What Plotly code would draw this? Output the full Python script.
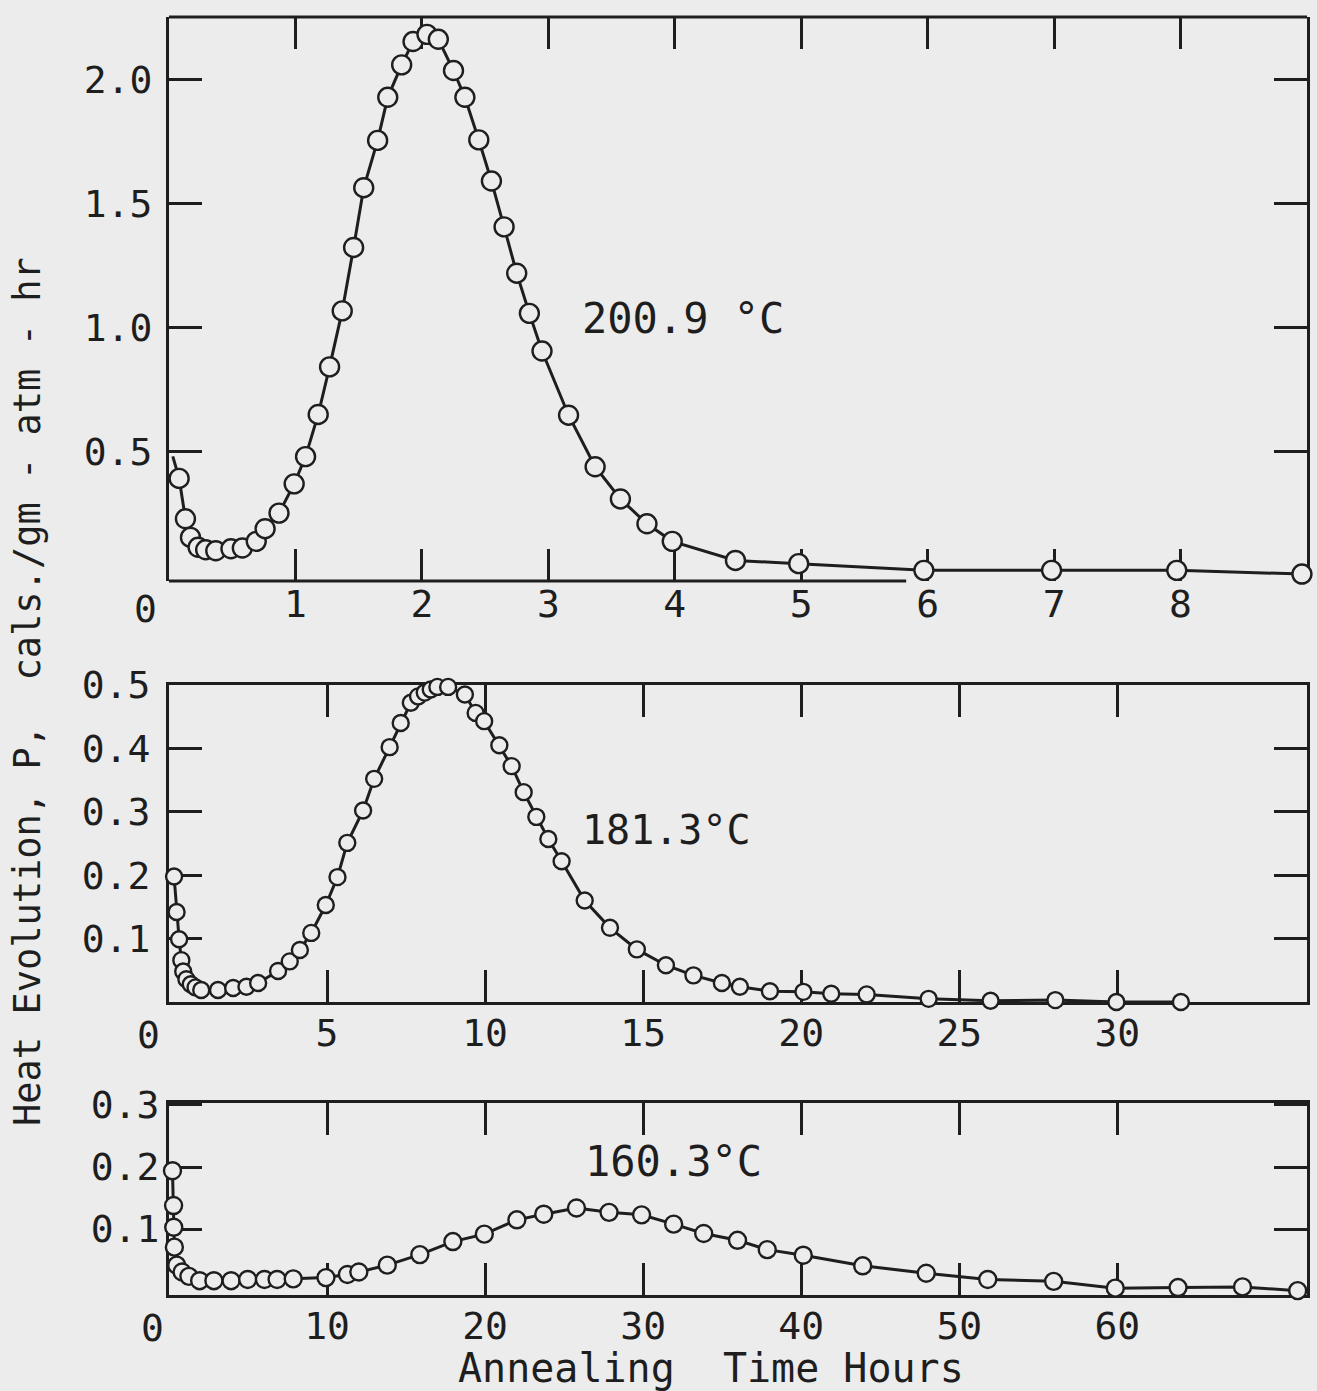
import plotly.graph_objects as go

# ---------------- data ----------------
# 200.9 C panel (hours, P)
t_200 = [0.08, 0.13, 0.17, 0.23, 0.29, 0.37, 0.49, 0.58, 0.69, 0.76, 0.87, 0.99, 1.08,
         1.18, 1.27, 1.37, 1.46, 1.54, 1.65, 1.73, 1.84, 1.93, 2.04, 2.13, 2.25, 2.34,
         2.45, 2.55, 2.65, 2.75, 2.85, 2.95, 3.16, 3.37, 3.57, 3.78, 3.98, 4.48, 4.98,
         5.97, 6.98, 7.97, 8.96]
p_200 = [0.391, 0.228, 0.153, 0.113, 0.103, 0.099, 0.107, 0.110, 0.137, 0.188, 0.251,
         0.369, 0.479, 0.649, 0.841, 1.067, 1.323, 1.564, 1.755, 1.929, 2.060, 2.154,
         2.183, 2.163, 2.037, 1.929, 1.757, 1.591, 1.406, 1.219, 1.057, 0.905, 0.646,
         0.438, 0.308, 0.208, 0.137, 0.060, 0.047, 0.020, 0.020, 0.020, 0.005]
t_200_start = [0.03]
p_200_start = [0.48]

# 181.3 C panel
t_181 = [0.16, 0.24, 0.32, 0.39, 0.45, 0.55, 0.69, 0.84, 1.02, 1.55, 2.03, 2.45, 2.82,
         3.45, 3.82, 4.14, 4.50, 4.96, 5.33, 5.64, 6.14, 6.49, 6.98, 7.33, 7.65, 7.88,
         8.09, 8.28, 8.49, 8.83, 9.36, 9.70, 9.97, 10.45, 10.84, 11.22, 11.62, 12.00,
         12.42, 13.15, 13.95, 14.80, 15.72, 16.59, 17.49, 18.06, 19.01, 20.07, 20.95,
         22.07, 24.03, 25.99, 28.04, 29.97, 32.01]
p_181 = [0.198, 0.142, 0.099, 0.066, 0.048, 0.036, 0.028, 0.023, 0.019, 0.019, 0.022,
         0.024, 0.030, 0.049, 0.064, 0.082, 0.109, 0.153, 0.197, 0.251, 0.302, 0.352,
         0.402, 0.440, 0.472, 0.482, 0.488, 0.493, 0.497, 0.497, 0.485, 0.456, 0.443,
         0.405, 0.372, 0.331, 0.292, 0.257, 0.222, 0.160, 0.117, 0.083, 0.058, 0.042,
         0.030, 0.024, 0.017, 0.016, 0.013, 0.012, 0.005, 0.002, 0.003, 0.000, 0.000]

# 160.3 C panel
t_160 = [0.22, 0.29, 0.30, 0.34, 0.49, 0.83, 1.26, 1.94, 2.84, 3.93, 4.98, 6.04, 6.84,
         7.86, 9.93, 11.29, 12.01, 13.81, 15.87, 17.96, 19.95, 22.01, 23.71, 25.78,
         27.84, 29.90, 31.93, 33.83, 35.97, 37.85, 40.13, 43.89, 47.91, 51.80, 55.97,
         59.87, 63.84, 67.92, 71.41]
p_160 = [0.194, 0.138, 0.103, 0.071, 0.042, 0.031, 0.024, 0.017, 0.017, 0.017, 0.019,
         0.019, 0.019, 0.020, 0.022, 0.027, 0.031, 0.042, 0.059, 0.080, 0.092, 0.115,
         0.124, 0.134, 0.127, 0.123, 0.108, 0.093, 0.082, 0.067, 0.058, 0.041, 0.029,
         0.019, 0.016, 0.005, 0.006, 0.007, 0.001]

# tick labels
x1_ticks = [1, 2, 3, 4, 5, 6, 7, 8]
x2_ticks = [5, 10, 15, 20, 25, 30]
x3_ticks = [10, 20, 30, 40, 50, 60]
y1_ticks = [0.5, 1.0, 1.5, 2.0]
y1_text = ["0.5", "1.0", "1.5", "2.0"]
y2_ticks = [0.1, 0.2, 0.3, 0.4, 0.5]
y2_text = ["0.1", "0.2", "0.3", "0.4", "0.5"]
y3_ticks = [0.1, 0.2, 0.3]
y3_text = ["0.1", "0.2", "0.3"]

labels = ["200.9 °C", "181.3°C", "160.3°C"]
y_title = "Heat Evolution, P,  cals./gm - atm - hr"
x_title = "Annealing  Time Hours"

# ---------------- style ----------------
BG = "#ececec"
INK = "#1e1e1e"
FONT = "DejaVu Sans Mono"
W, H = 1317, 1391

def px_x(v):
    return v / W

def px_y(v):
    return 1 - v / H

XDOM = [px_x(169), px_x(1307)]
DOM1 = [px_y(581), px_y(17)]
DOM2 = [px_y(1002), px_y(685)]
DOM3 = [px_y(1295), px_y(1103)]

fig = go.Figure()

line_style = dict(color=INK, width=3)

def marker_style(size):
    return dict(symbol="circle", size=size, color=BG, line=dict(color=INK, width=2.4))

# top panel: line (with leading segment) and markers
fig.add_trace(go.Scatter(x=t_200_start + t_200, y=p_200_start + p_200, mode="lines",
                         line=line_style, xaxis="x", yaxis="y", hoverinfo="skip"))
fig.add_trace(go.Scatter(x=t_200, y=p_200, mode="markers", marker=marker_style(19),
                         xaxis="x", yaxis="y", cliponaxis=False))
fig.add_trace(go.Scatter(x=t_181, y=p_181, mode="lines+markers", line=line_style,
                         marker=marker_style(16), xaxis="x2", yaxis="y2", cliponaxis=False))
fig.add_trace(go.Scatter(x=t_160, y=p_160, mode="lines+markers", line=line_style,
                         marker=marker_style(17), xaxis="x3", yaxis="y3", cliponaxis=False))

tickfont = dict(family=FONT, size=38, color=INK)

def xaxis(rng, ticks, anchor, showline=True, standoff=6):
    return dict(domain=XDOM, range=rng, anchor=anchor, tickmode="array", tickvals=ticks,
                ticktext=[str(t) for t in ticks], ticks="inside", ticklen=32,
                tickwidth=2.5, tickcolor=INK, showline=showline, linecolor=INK,
                linewidth=3, mirror="ticks", showgrid=False, zeroline=False,
                tickfont=tickfont, ticklabelstandoff=standoff, fixedrange=True,
                automargin=False, layer="below traces")

def yaxis(rng, dom, ticks, text, anchor, standoff=10):
    return dict(domain=dom, range=rng, anchor=anchor, tickmode="array", tickvals=ticks,
                ticktext=text, ticks="inside", ticklen=33, tickwidth=2.5, tickcolor=INK,
                showline=True, linecolor=INK, linewidth=3, mirror="ticks",
                showgrid=False, zeroline=False, tickfont=tickfont,
                ticklabelstandoff=standoff, fixedrange=True, automargin=False,
                layer="below traces")

fig.update_layout(
    width=W, height=H, margin=dict(l=0, r=0, t=0, b=0, pad=0, autoexpand=False),
    paper_bgcolor=BG, plot_bgcolor=BG, showlegend=False,
    xaxis=xaxis([0, 9], x1_ticks, "y", showline=False, standoff=-3),
    yaxis=yaxis([-0.023, 2.253], DOM1, y1_ticks, y1_text, "x", standoff=6),
    xaxis2=xaxis([0, 36], x2_ticks, "y2", standoff=-5),
    yaxis2=yaxis([0, 0.5], DOM2, y2_ticks, y2_text, "x2", standoff=8),
    xaxis3=xaxis([0, 72], x3_ticks, "y3", standoff=-5),
    yaxis3=yaxis([-0.006, 0.303], DOM3, y3_ticks, y3_text, "x3", standoff=-1),
)

# top panel frame: full top border, partial bottom baseline
fig.add_shape(type="line", xref="x domain", yref="y domain", x0=0, x1=1, y0=1, y1=1,
              line=dict(color=INK, width=3), layer="below")
fig.add_shape(type="line", xref="x", yref="y domain", x0=0, x1=5.83, y0=0, y1=0,
              line=dict(color=INK, width=3), layer="below")

ann_font = dict(family=FONT, color=INK)
annotations = [
    dict(text=labels[0], x=px_x(683), y=px_y(318), font=dict(size=42, **ann_font)),
    dict(text=labels[1], x=px_x(666), y=px_y(830), font=dict(size=40, **ann_font)),
    dict(text=labels[2], x=px_x(673), y=px_y(1161), font=dict(size=42, **ann_font)),
    dict(text=x_title, x=px_x(711), y=px_y(1368), font=dict(size=40, **ann_font)),
    dict(text=y_title, x=px_x(27), y=px_y(692), textangle=-90, font=dict(size=37, **ann_font)),
]
for a in annotations:
    fig.add_annotation(xref="paper", yref="paper", showarrow=False, xanchor="center",
                       yanchor="middle", **a)

# the "0" origin labels sit left of the frame corner
for xr, yv, shift in (("x", 609, -24), ("x2", 1035, -21), ("x3", 1328, -17)):
    fig.add_annotation(text="0", xref=xr, x=0, yref="paper", y=px_y(yv), xshift=shift,
                       xanchor="center", yanchor="middle", showarrow=False,
                       font=dict(size=38, **ann_font))

fig.write_html("out.html")
